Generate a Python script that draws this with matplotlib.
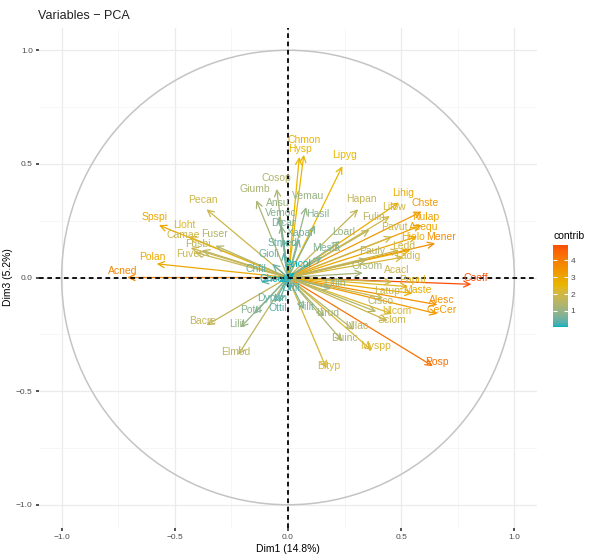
import numpy as np
import matplotlib
matplotlib.use("Agg")
import matplotlib.pyplot as plt
from matplotlib.colors import ListedColormap, Normalize, to_rgb
from matplotlib.patches import Circle

plt.rcParams['font.family'] = ['Liberation Sans', 'DejaVu Sans']

# variable coordinates on Dim1 / Dim3 and their contribution
names = ["Coeff", "Posp", "Acned", "Mener", "Alesc", "CeCer", "Chste", "Nulap",
         "Acequ", "Polan", "Spspi", "Hielo", "Maste", "Lihig", "Chmon", "Hysp",
         "Lipyg", "Lloht", "Papul", "Myspp", "Ulcom", "Ladig", "Bltyp", "Lilow",
         "Pavut", "Sclom", "Pecan", "Camae", "Fuves", "Latup", "Hapan", "Bacre",
         "Elmod", "Fulin", "Ledd", "Pauly", "Fusbi", "Fuser", "Cisco", "Ullac",
         "Duinc", "Lirud", "Giumb", "Cosop", "Vemau", "Ansu", "Lilit", "Potri",
         "Loarl", "Otlin", "Hasil", "Vemoc", "Pilit", "Mesla", "Xapar", "Dicar",
         "Gioli", "Dypun", "Chfil", "Ottil", "Otfil", "Stmed", "Chcon", "Orsom",
         "Acacl", "Ancol"]
dim1 = [0.81, 0.64, -0.71, 0.65, 0.66, 0.66, 0.59, 0.59,
        0.57, -0.58, -0.57, 0.54, 0.55, 0.49, 0.07, 0.05,
        0.24, -0.44, 0.53, 0.37, 0.46, 0.51, 0.17, 0.45,
        0.46, 0.44, -0.36, -0.43, -0.41, 0.42, 0.31, -0.36,
        -0.22, 0.36, 0.49, 0.35, -0.38, -0.32, 0.39, 0.29,
        0.24, 0.16, -0.14, -0.05, 0.08, -0.04, -0.21, -0.15,
        0.23, 0.19, 0.12, -0.03, 0.07, 0.15, 0.05, -0.02,
        -0.07, -0.06, -0.12, -0.04, 0.01, -0.02, -0.04, 0.33,
        0.46, 0.03]
dim3 = [-0.03, -0.39, 0.00, 0.15, -0.12, -0.16, 0.29, 0.23,
        0.18, 0.06, 0.23, 0.12, -0.07, 0.33, 0.54, 0.53,
        0.49, 0.18, -0.04, -0.32, -0.16, 0.09, -0.40, 0.27,
        0.18, -0.19, 0.30, 0.13, 0.11, -0.09, 0.30, -0.21,
        -0.34, 0.21, 0.12, 0.08, 0.12, 0.14, -0.15, -0.23,
        -0.28, -0.17, 0.34, 0.39, 0.31, 0.27, -0.22, -0.16,
        0.16, -0.05, 0.23, 0.23, -0.14, 0.09, 0.17, 0.17,
        0.06, -0.11, -0.02, -0.11, -0.06, 0.11, -0.02, 0.02,
        -0.02, 0.02]
contrib = [4.9, 4.2, 3.8, 3.6, 3.5, 3.3, 3.3, 3.1,
           3.0, 2.9, 2.9, 2.8, 2.8, 2.8, 2.6, 2.5,
           2.5, 2.3, 2.3, 2.2, 2.2, 2.1, 2.1, 2.0,
           2.0, 1.9, 1.9, 1.9, 1.8, 1.8, 1.7, 1.7,
           1.6, 1.6, 1.9, 1.4, 1.6, 1.4, 1.5, 1.5,
           1.4, 1.2, 1.3, 1.4, 1.0, 1.0, 1.0, 0.8,
           1.0, 1.0, 0.8, 0.8, 0.7, 0.7, 0.6, 0.6,
           0.5, 0.5, 0.4, 0.4, 0.3, 0.4, 0.1, 1.2,
           1.9, 0.05]
cbar_ticks = [1, 2, 3, 4]
gradient_cols = ["#00AFBB", "#E7B800", "#FC4E07"]


# ggplot interpolates gradients in Lab space, do the same here
def to_lab(rgb):
    c = np.asarray(rgb, float)
    c = np.where(c > 0.04045, ((c + 0.055) / 1.055) ** 2.4, c / 12.92)
    M = np.array([[0.4124, 0.3576, 0.1805],
                  [0.2126, 0.7152, 0.0722],
                  [0.0193, 0.1192, 0.9505]])
    xyz = M @ c / np.array([0.95047, 1.0, 1.08883])
    f = np.where(xyz > 0.008856, np.cbrt(xyz), 7.787 * xyz + 16 / 116)
    return np.array([116 * f[1] - 16, 500 * (f[0] - f[1]), 200 * (f[1] - f[2])])


def from_lab(lab):
    L, a, b = lab
    fy = (L + 16) / 116
    f = np.array([fy + a / 500, fy, fy - b / 200])
    xyz = np.where(f ** 3 > 0.008856, f ** 3, (f - 16 / 116) / 7.787)
    xyz = xyz * np.array([0.95047, 1.0, 1.08883])
    Minv = np.array([[3.2406, -1.5372, -0.4986],
                     [-0.9689, 1.8758, 0.0415],
                     [0.0557, -0.2040, 1.0570]])
    c = Minv @ xyz
    c = np.where(c > 0.0031308, 1.055 * np.clip(c, 0, None) ** (1 / 2.4) - 0.055, 12.92 * c)
    return np.clip(c, 0, 1)


labs = [to_lab(to_rgb(c)) for c in gradient_cols]
ramp = []
for t in np.linspace(0, 1, 256):
    seg = min(int(t * 2), 1)
    u = t * 2 - seg
    ramp.append(from_lab(labs[seg] * (1 - u) + labs[seg + 1] * u))
cmap = ListedColormap(ramp)
norm = Normalize(min(contrib), max(contrib))

fig = plt.figure(figsize=(5.89, 5.60), dpi=100)
ax = fig.add_axes([39 / 589, 32.5 / 560, 498 / 589, 500 / 560])

ax.set_xlim(-1.1, 1.1)
ax.set_ylim(-1.1, 1.1)
ax.set_xticks([-1.0, -0.5, 0.0, 0.5, 1.0])
ax.set_yticks([-1.0, -0.5, 0.0, 0.5, 1.0])
ax.set_xticks([-0.75, -0.25, 0.25, 0.75], minor=True)
ax.set_yticks([-0.75, -0.25, 0.25, 0.75], minor=True)
ax.grid(True, which="major", color="#EBEBEB", lw=0.9)
ax.grid(True, which="minor", color="#F3F3F3", lw=0.5)
ax.set_axisbelow(True)
for s in ax.spines.values():
    s.set_visible(False)
ax.tick_params(which="major", length=2.5, width=1.2, color="#333333",
               labelsize=6, labelcolor="#4D4D4D", pad=2)
ax.tick_params(which="minor", length=0)

ax.add_patch(Circle((0, 0), 1.0, fill=False, color="#C4C4C4", lw=1.1, zorder=1))

texts = []
for n, x, y, c in zip(names, dim1, dim3, contrib):
    col = cmap(norm(c))
    ax.annotate("", xy=(x, y), xytext=(0, 0),
                arrowprops=dict(arrowstyle="->,head_length=0.45,head_width=0.22",
                                color=col, lw=0.9, shrinkA=0, shrinkB=0),
                zorder=2)
    r = np.hypot(x, y)
    ux, uy = (x / r, y / r) if r > 0 else (0, 0)
    t = ax.text(x + 0.02 * ux, y + 0.02 * uy + 0.03, n, color=col, fontsize=7.5,
                ha="center", va="center", zorder=4)
    texts.append(t)

ax.axhline(0, color="black", lw=1.3, dashes=(2.6, 2), zorder=3)
ax.axvline(0, color="black", lw=1.3, dashes=(2.6, 2), zorder=3)

# small repel pass so labels don't sit on top of each other
fig.canvas.draw()
rend = fig.canvas.get_renderer()
boxes = [t.get_window_extent(rend) for t in texts]
pos = np.array([[(b.x0 + b.x1) / 2, (b.y0 + b.y1) / 2] for b in boxes])
start = pos.copy()
half = np.array([[b.width / 2 + 1, b.height / 2] for b in boxes])
for it in range(150):
    moved = False
    for i in range(len(pos)):
        for j in range(i + 1, len(pos)):
            d = pos[j] - pos[i]
            ox = half[i, 0] + half[j, 0] - abs(d[0])
            oy = half[i, 1] + half[j, 1] - abs(d[1])
            if ox > 0 and oy > 0:
                moved = True
                if oy < ox:
                    s = np.sign(d[1]) if d[1] != 0 else 1
                    pos[i, 1] -= s * oy * 0.3
                    pos[j, 1] += s * oy * 0.3
                else:
                    s = np.sign(d[0]) if d[0] != 0 else 1
                    pos[i, 0] -= s * ox * 0.3
                    pos[j, 0] += s * ox * 0.3
    pos += (start - pos) * 0.02
    if not moved:
        break
inv = ax.transData.inverted()
for t, p, x, y in zip(texts, pos, dim1, dim3):
    nx, ny = inv.transform(p)
    t.set_position((nx, ny))
    tip = ax.transData.transform((x, y))
    if np.hypot(*(p - tip)) > 20:
        ax.plot([x, nx], [y, ny], color=t.get_color(), lw=0.5, zorder=3)

ax.set_xlabel("Dim1 (14.8%)", fontsize=7.5, labelpad=2)
ax.set_ylabel("Dim3 (5.2%)", fontsize=7.5, labelpad=2)
fig.text(38 / 589, 1 - 16 / 560, "Variables \u2212 PCA", fontsize=9, color="#222222",
         ha="left", va="center")

cax = fig.add_axes([553 / 589, 233 / 560, 15 / 589, 82 / 560])
sm = matplotlib.cm.ScalarMappable(norm=norm, cmap=cmap)
cb = fig.colorbar(sm, cax=cax, ticks=cbar_ticks)
cb.outline.set_visible(False)
cax.tick_params(length=3, width=0.8, color="white", direction="in",
                labelsize=6, labelcolor="#4D4D4D", pad=2, left=True, right=True)
fig.text(553 / 589, 1 - 236 / 560, "contrib", fontsize=7.5, ha="left", va="center")

fig.savefig("out.png", dpi=100)
